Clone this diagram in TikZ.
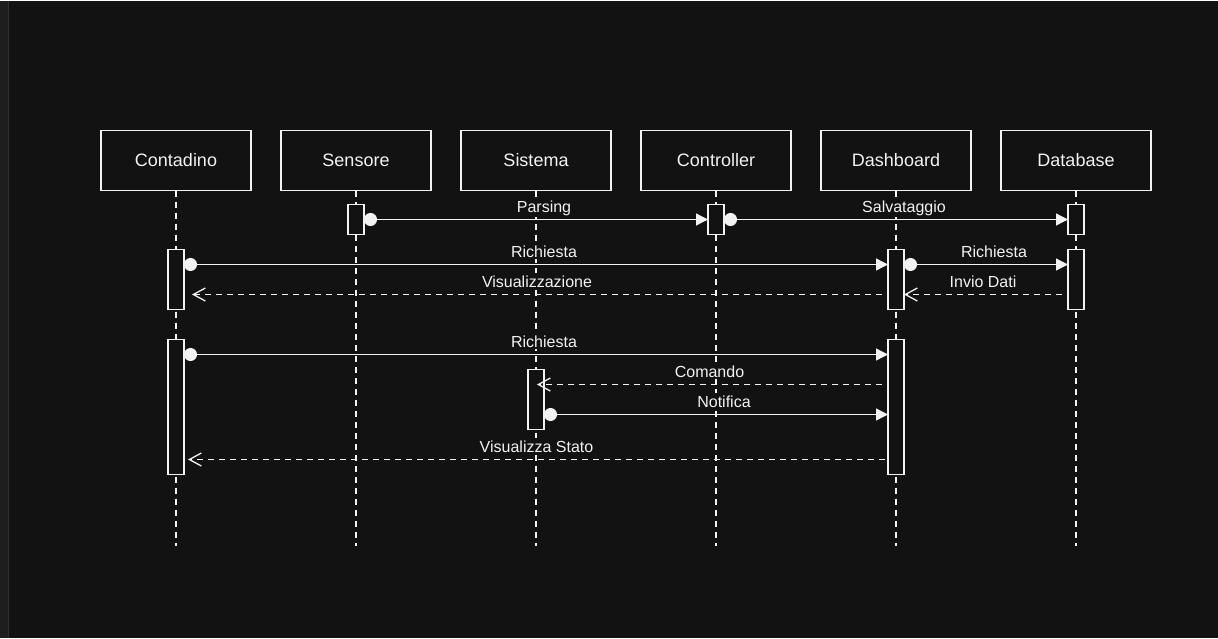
\documentclass[tikz,border=0pt]{standalone}
\usepackage{fontspec}
\setmainfont{Liberation Sans}
\usetikzlibrary{arrows.meta,positioning}
\definecolor{bg}{HTML}{121212}
\definecolor{ink}{HTML}{F2F2F2}
\definecolor{strip}{HTML}{1E1E1E}
\definecolor{stripline}{HTML}{303030}

\begin{document}
\begin{tikzpicture}[x=1pt,y=-1pt,line width=1.3pt,node distance=30pt,
  every node/.style={text=ink},
  head/.style={draw=ink,fill=bg,minimum width=150pt,minimum height=60pt,inner sep=0pt,outer sep=0pt,font=\fontsize{18}{21}\selectfont},
  act/.style={draw=ink,fill=bg,minimum width=16pt,inner sep=0pt,outer sep=0pt,anchor=north},
  life/.style={draw=ink,dash pattern=on 6pt off 5pt},
  call/.style={draw=ink,{Circle[length=13pt]}-{Triangle[length=12pt,width=12pt]}},
  reply/.style={draw=ink,dash pattern=on 6pt off 5pt,-{Straight Barb[length=12pt,width=13pt]}},
  msg/.style={font=\fontsize{16}{19}\selectfont,anchor=base,yshift=7.5pt,fill=bg,inner xsep=2pt,inner ysep=2pt}]
  % background
  \fill[bg] (0,0) rectangle (1218,637);
  \fill[strip] (0,0) rectangle (8,637);
  \draw[stripline,line width=1pt] (8.5,0) -- (8.5,637);
  % lifeline heads
  \node[head] (contadino) at (176,160) {Contadino};
  \node[head,right=of contadino] (sensore) {Sensore};
  \node[head,right=of sensore] (sistema) {Sistema};
  \node[head,right=of sistema] (controller) {Controller};
  \node[head,right=of controller] (dashboard) {Dashboard};
  \node[head,right=of dashboard] (database) {Database};
  \foreach \n in {contadino,sensore,sistema,controller,dashboard,database}
    \draw[life] (\n.south) -- ([yshift=-355pt]\n.south);
  % activations
  \node[act,minimum height=30pt] (sensoreA) at (sensore.south |- 0,204) {};
  \node[act,minimum height=30pt] (controllerA) at (controller.south |- 0,204) {};
  \node[act,minimum height=30pt] (databaseA) at (database.south |- 0,204) {};
  \node[act,minimum height=60pt] (contadinoA) at (contadino.south |- 0,249) {};
  \node[act,minimum height=60pt] (dashboardA) at (dashboard.south |- 0,249) {};
  \node[act,minimum height=60pt] (databaseB) at (database.south |- 0,249) {};
  \node[act,minimum height=135pt] (contadinoB) at (contadino.south |- 0,339) {};
  \node[act,minimum height=135pt] (dashboardB) at (dashboard.south |- 0,339) {};
  \node[act,minimum height=60pt] (sistemaA) at (sistema.south |- 0,369) {};
  % messages
  \draw[call] (sensoreA.east) -- (controllerA.west) node[msg,pos=0.5,xshift=8pt] {Parsing};
  \draw[call] (controllerA.east) -- (databaseA.west) node[msg,pos=0.5,xshift=8pt] {Salvataggio};
  \draw[call] ([yshift=-15pt]contadinoA.north east) -- ([yshift=-15pt]dashboardA.north west) node[msg,pos=0.5,xshift=8pt] {Richiesta};
  \draw[call] ([yshift=-15pt]dashboardA.north east) -- ([yshift=-15pt]databaseB.north west) node[msg,pos=0.5,xshift=8pt] {Richiesta};
  \draw[reply] ([xshift=-6pt,yshift=15pt]dashboardA.south west) -- ([xshift=8pt,yshift=15pt]contadinoA.south east) node[msg,pos=0.5] {Visualizzazione};
  \draw[reply] ([xshift=-6pt,yshift=15pt]databaseB.south west) -- ([yshift=15pt]dashboardA.south east) node[msg,pos=0.5] {Invio Dati};
  \draw[call] ([yshift=-15pt]contadinoB.north east) -- ([yshift=-15pt]dashboardB.north west) node[msg,pos=0.5,xshift=8pt] {Richiesta};
  \draw[reply] ([xshift=-6pt,yshift=-45pt]dashboardB.north west) -- ([xshift=-7pt,yshift=-15pt]sistemaA.north east) node[msg,pos=0.5] {Comando};
  \draw[call] ([yshift=-45pt]sistemaA.north east) -- ([yshift=-75pt]dashboardB.north west) node[msg,pos=0.5,xshift=8pt] {Notifica};
  \draw[reply] ([xshift=-3pt,yshift=15pt]dashboardB.south west) -- ([xshift=4pt,yshift=15pt]contadinoB.south east) node[msg,pos=0.5] {Visualizza Stato};
\end{tikzpicture}
\end{document}
